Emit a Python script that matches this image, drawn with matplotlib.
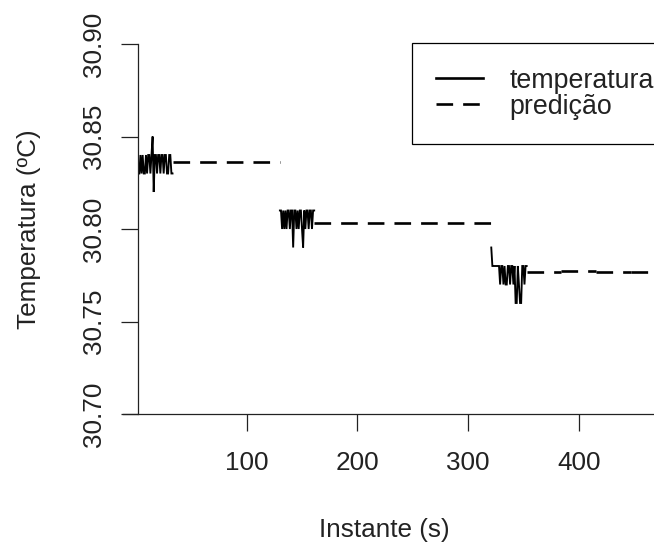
import matplotlib
matplotlib.use("Agg")
import matplotlib.pyplot as plt
from matplotlib.lines import Line2D

plt.rcParams['font.family'] = ['Liberation Sans', 'DejaVu Sans']

# ---- data ----
temp1_t = [3, 4, 5, 6, 7, 8, 9, 10, 11, 12, 13, 14, 15, 16, 17, 18, 19, 20,
           21, 22, 23, 24, 25, 26, 27, 28, 29, 30, 31, 32, 33]
temp1 = [30.83, 30.84, 30.83, 30.84, 30.83, 30.83, 30.84, 30.83, 30.84, 30.84,
         30.83, 30.84, 30.85, 30.82, 30.84, 30.84, 30.83, 30.84, 30.84, 30.83,
         30.84, 30.84, 30.83, 30.84, 30.84, 30.83, 30.83, 30.84, 30.84, 30.83, 30.83]

temp2_t = [130, 131, 132, 133, 134, 135, 136, 137, 138, 139, 140, 141, 142, 143,
           144, 145, 146, 147, 148, 149, 150, 151, 152, 153, 154, 155, 156, 157,
           158, 159, 160, 161]
temp2 = [30.81, 30.81, 30.80, 30.81, 30.80, 30.81, 30.80, 30.81, 30.81, 30.80,
         30.81, 30.81, 30.79, 30.81, 30.81, 30.80, 30.81, 30.80, 30.81, 30.81,
         30.80, 30.79, 30.81, 30.80, 30.81, 30.81, 30.80, 30.81, 30.81, 30.80,
         30.81, 30.81]

temp3_t = [321, 322, 323, 324, 325, 326, 327, 328, 329, 330, 331, 332, 333, 334,
           335, 336, 337, 338, 339, 340, 341, 342, 343, 344, 345, 346, 347, 348,
           349, 350, 351, 352, 353]
temp3 = [30.79, 30.78, 30.78, 30.78, 30.78, 30.78, 30.78, 30.78, 30.77, 30.78,
         30.78, 30.77, 30.78, 30.77, 30.77, 30.78, 30.78, 30.77, 30.78, 30.78,
         30.77, 30.78, 30.76, 30.76, 30.78, 30.77, 30.76, 30.76, 30.78, 30.78,
         30.77, 30.78, 30.78]

pred_start = [33, 161, 353, 384, 416, 447]
pred_end = [130, 321, 384, 416, 447, 480]
pred_val = [30.836, 30.803, 30.777, 30.7775, 30.777, 30.7767]

x_ticks = [100, 200, 300, 400]
y_ticks = [30.70, 30.75, 30.80, 30.85, 30.90]
y_tick_labels = ["30.70", "30.75", "30.80", "30.85", "30.90"]

# ---- layout ----
W, H = 654, 544
fig = plt.figure(figsize=(W / 100, H / 100), dpi=100)
ax = fig.add_axes([123 / W, (H - 414) / H, 577 / W, 370 / H])
ax.set_xlim(-11.75, 509.6)
ax.set_ylim(30.70, 30.90)

LW_T = 1.35
LW = 1.9
DASH = (0, (6.3, 3.8))
axcol = '#222222'

for t, v in [(temp1_t, temp1), (temp2_t, temp2), (temp3_t, temp3)]:
    ax.plot(t, v, color='black', lw=LW_T, solid_joinstyle='miter')

for s, e, v in zip(pred_start, pred_end, pred_val):
    ax.plot([s, e], [v, v], color='black', lw=LW, linestyle=DASH)

for side in ['top', 'right']:
    ax.spines[side].set_visible(False)
ax.spines['left'].set_position(('data', 2.1))
for side in ['left', 'bottom']:
    ax.spines[side].set_color(axcol)
    ax.spines[side].set_linewidth(0.9)

FS = 18.8
ax.set_xticks(x_ticks)
ax.set_yticks(y_ticks)
ax.set_yticklabels(y_tick_labels, rotation=90, va='center')
ax.tick_params(axis='both', direction='out', length=12.2, width=0.9, color=axcol,
               labelsize=FS, labelcolor='#222222')
ax.tick_params(axis='y', pad=10.9)
ax.tick_params(axis='x', pad=14.3)

ax.set_xlabel('Instante (s)', fontsize=FS, color='#222222')
ax.xaxis.set_label_coords((384 - 123) / 577, -(530 - 414) / 370)
ax.xaxis.label.set_va('center')
ax.set_ylabel('Temperatura (ºC)', fontsize=FS, color='#222222')
ax.yaxis.set_label_coords((29 - 123) / 577, 0.5)
ax.yaxis.label.set_va('center')

FS_LEG = 19.3
em = FS_LEG * 100 / 72
handles = [Line2D([], [], color='black', lw=LW),
           Line2D([], [], color='black', lw=LW, linestyle=DASH)]
leg = ax.legend(handles, ['temperatura', 'predição'], loc='upper left',
                bbox_to_anchor=(411.7 / W, 1 - 43.3 / H), bbox_transform=fig.transFigure,
                borderaxespad=0, frameon=True, fancybox=False, edgecolor='black',
                framealpha=1, fontsize=FS_LEG, handlelength=46.7 / em,
                handletextpad=26.6 / em, borderpad=24.5 / em, labelspacing=0.0)
leg.get_frame().set_linewidth(0.9)
for txt in leg.get_texts():
    txt.set_color('#222222')

fig.savefig('out.png', dpi=100)
